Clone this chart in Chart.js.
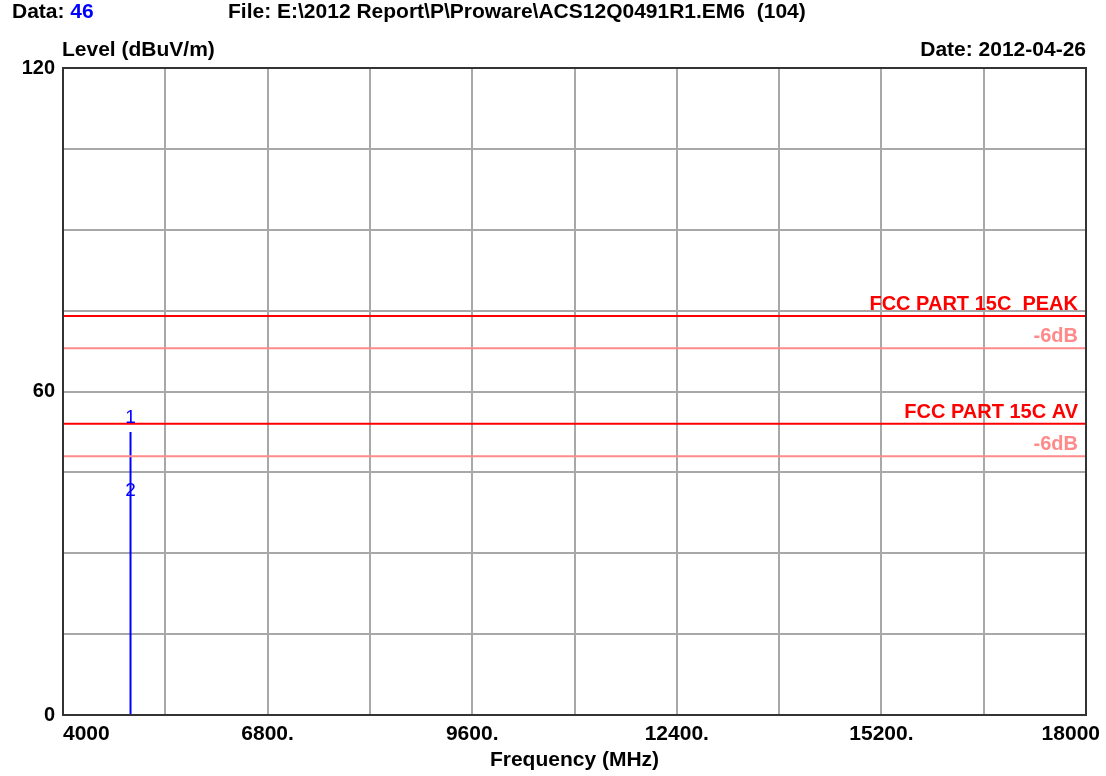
<!DOCTYPE html>
<html>
<head>
<meta charset="utf-8">
<script src="https://cdn.jsdelivr.net/npm/chart.js@4.4.0/dist/chart.umd.min.js"></script>
<style>
  html, body { margin: 0; padding: 0; background: #fff; }
  #wrap { width: 1106px; height: 776px; }
</style>
</head>
<body>
<div id="wrap"><canvas id="emiChart" width="1106" height="776"></canvas></div>
<script>
// axis ranges and tick labels
const freqMin = 4000, freqMax = 18000, freqStep = 1400;
const levelMin = 0, levelMax = 120, levelStep = 15;
const freqTickValues = [4000, 6800, 9600, 12400, 15200, 18000];
const freqTickLabels = ['4000', '6800.', '9600.', '12400.', '15200.', '18000'];
const levelTickValues = [0, 60, 120];

// measured trace (one spike at the 2nd harmonic)
const traceFreq = [4924, 4924];
const traceLevel = [0, 52.5];

// markers
const markerNames = ['1', '2'];
const markerFreq = [4924, 4924];
const markerLevel = [52.5, 39.0];

// limit lines
const limitNames = ['FCC PART 15C  PEAK', '-6dB', 'FCC PART 15C AV', '-6dB'];
const limitLevels = [74, 68, 54, 48];
const limitColors = ['#ff0000', '#ff8a8a', '#ff0000', '#ff8a8a'];

const FONT = '"Liberation Sans", Arial, sans-serif';

const datasets = limitLevels.map((lvl, i) => ({
  data: [{ x: freqMin, y: lvl }, { x: freqMax, y: lvl }],
  borderColor: limitColors[i],
  borderWidth: 2,
  pointRadius: 0
}));
datasets.push({
  data: traceFreq.map((f, i) => ({ x: f, y: traceLevel[i] })),
  borderColor: '#0000ff',
  borderWidth: 2,
  pointRadius: 0
});

// frame, header texts, labels
const textPlugin = {
  id: 'texts',
  afterDraw(chart) {
    const c = chart.ctx;
    const a = chart.chartArea;
    const xs = chart.scales.x, ys = chart.scales.y;
    c.save();

    c.strokeStyle = '#333';
    c.lineWidth = 2;
    c.strokeRect(a.left, a.top, a.right - a.left, a.bottom - a.top);

    c.font = 'bold 21px ' + FONT;
    c.textBaseline = 'alphabetic';
    c.fillStyle = '#000';
    c.textAlign = 'left';
    c.fillText('Data:', 12, 18);
    const w = c.measureText('Data: ').width;
    c.fillStyle = '#0000ff';
    c.fillText('46', 12 + w, 18);
    c.fillStyle = '#000';
    c.fillText('File: E:\\2012 Report\\P\\Proware\\ACS12Q0491R1.EM6  (104)', 228, 18);
    c.fillText('Level (dBuV/m)', 62, 56);
    c.textAlign = 'right';
    c.fillText('Date: 2012-04-26', a.right, 56);

    // x tick labels
    freqTickValues.forEach((v, i) => {
      const px = xs.getPixelForValue(v);
      if (i === 0) { c.textAlign = 'left'; c.fillText(freqTickLabels[i], px, 740); }
      else if (i === freqTickValues.length - 1) { c.textAlign = 'right'; c.fillText(freqTickLabels[i], px + 14, 740); }
      else { c.textAlign = 'center'; c.fillText(freqTickLabels[i], px, 740); }
    });
    c.textAlign = 'center';
    c.fillText('Frequency (MHz)', (a.left + a.right) / 2, 766);

    // limit labels
    c.font = 'bold 20px ' + FONT;
    c.textAlign = 'right';
    limitNames.forEach((name, i) => {
      c.fillStyle = limitColors[i];
      c.fillText(name, a.right - 8, ys.getPixelForValue(limitLevels[i]) - 6);
    });

    // marker numbers
    c.font = '19px ' + FONT;
    c.fillStyle = '#0000ff';
    c.textAlign = 'center';
    markerNames.forEach((m, i) => {
      c.fillText(m, xs.getPixelForValue(markerFreq[i]), ys.getPixelForValue(markerLevel[i]) - 9);
    });
    c.restore();
  }
};

new Chart(document.getElementById('emiChart'), {
  type: 'line',
  data: { datasets: datasets },
  options: {
    responsive: false,
    animation: false,
    layout: { padding: { top: 68, right: 20, left: 0, bottom: 0 } },
    plugins: { legend: { display: false }, tooltip: { enabled: false } },
    scales: {
      x: {
        type: 'linear', min: freqMin, max: freqMax,
        ticks: { stepSize: freqStep, display: false },
        grid: { color: '#a8a8a8', lineWidth: 2, drawTicks: false },
        border: { display: false },
        afterFit(s) { s.height = 61; }
      },
      y: {
        type: 'linear', min: levelMin, max: levelMax,
        ticks: {
          stepSize: levelStep, autoSkip: false, padding: 8, color: '#000',
          font: { family: FONT, size: 20, weight: 'bold' },
          callback: v => levelTickValues.includes(v) ? String(v) : ''
        },
        grid: { color: '#a8a8a8', lineWidth: 2, drawTicks: false },
        border: { display: false },
        afterFit(s) { s.width = 63; }
      }
    }
  },
  plugins: [textPlugin]
});
</script>
</body>
</html>
